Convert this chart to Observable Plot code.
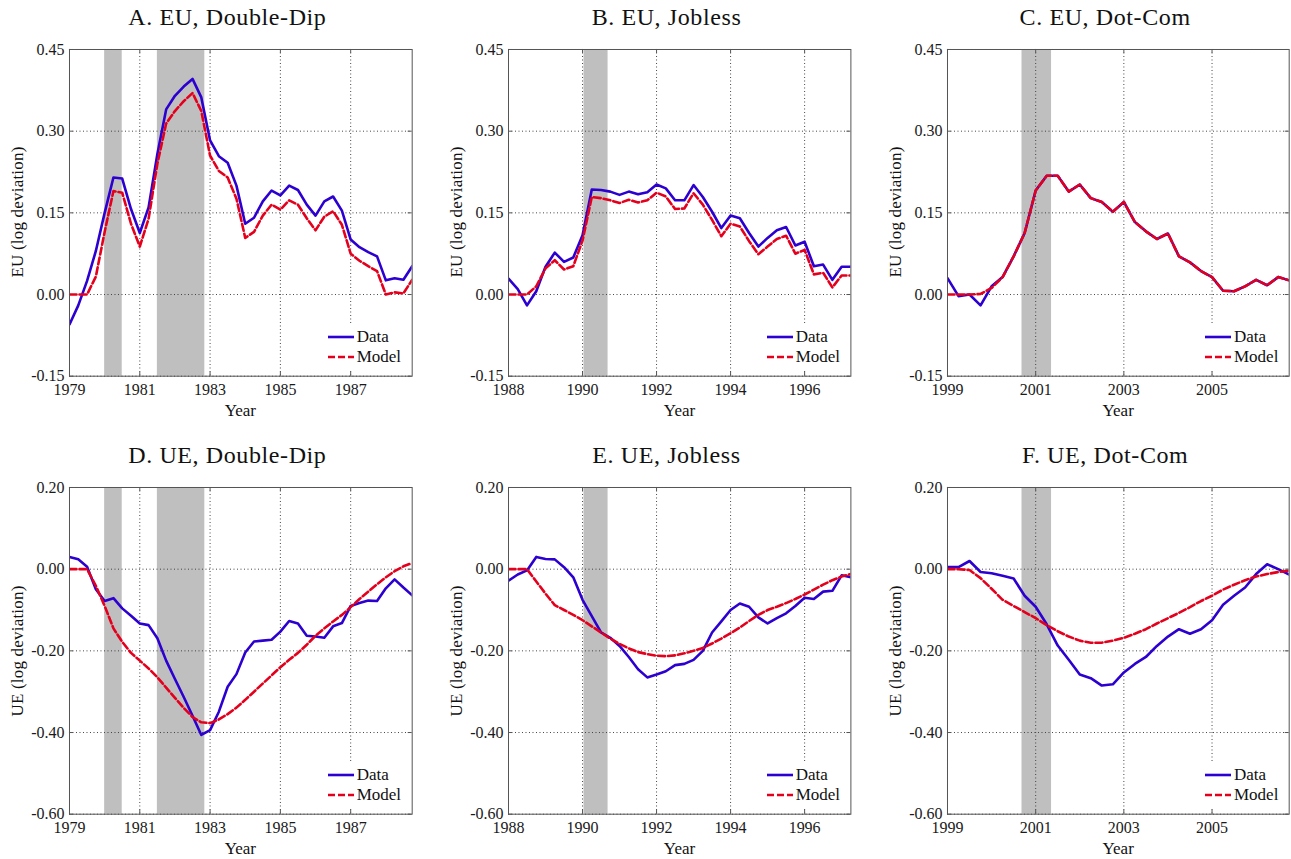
<!DOCTYPE html>
<html>
<head>
<meta charset="utf-8">
<script src="https://cdn.jsdelivr.net/npm/d3@7"></script>
<script src="https://cdn.jsdelivr.net/npm/@observablehq/plot@0.6"></script>
<style>
  html, body { margin: 0; padding: 0; background: #fff; }
  body { width: 1291px; height: 859px; position: relative; overflow: hidden; font-family: "Liberation Serif", "Times New Roman", serif; color: #111; }
  svg text { font-family: "Liberation Serif", "Times New Roman", serif !important; }
  .abs { position: absolute; white-space: nowrap; }
  .title { font-size: 24px; line-height: 1; transform: translateX(-50%); letter-spacing: 0.6px; }
  .ylab { font-size: 17px; line-height: 1; transform: translate(-50%, -50%) rotate(-90deg); letter-spacing: 0.2px; }
  .xlab { font-size: 17px; line-height: 1; transform: translate(-50%, -50%); }
  .legend { background: #fff; }
  .legrow { position: absolute; left: 0; height: 18px; display: flex; align-items: center; font-size: 17px; }
</style>
</head>
<body>
<script>
// ---------- DATA ----------
const quartersDoubleDip = [1979,1979.25,1979.5,1979.75,1980,1980.25,1980.5,1980.75,1981,1981.25,1981.5,1981.75,1982,1982.25,1982.5,1982.75,1983,1983.25,1983.5,1983.75,1984,1984.25,1984.5,1984.75,1985,1985.25,1985.5,1985.75,1986,1986.25,1986.5,1986.75,1987,1987.25,1987.5,1987.75,1988,1988.25,1988.5,1988.75];
const quartersJobless = [1988,1988.25,1988.5,1988.75,1989,1989.25,1989.5,1989.75,1990,1990.25,1990.5,1990.75,1991,1991.25,1991.5,1991.75,1992,1992.25,1992.5,1992.75,1993,1993.25,1993.5,1993.75,1994,1994.25,1994.5,1994.75,1995,1995.25,1995.5,1995.75,1996,1996.25,1996.5,1996.75,1997,1997.25];
const quartersDotCom = [1999,1999.25,1999.5,1999.75,2000,2000.25,2000.5,2000.75,2001,2001.25,2001.5,2001.75,2002,2002.25,2002.5,2002.75,2003,2003.25,2003.5,2003.75,2004,2004.25,2004.5,2004.75,2005,2005.25,2005.5,2005.75,2006,2006.25,2006.5,2006.75];

const euDoubleDipData  = [-0.055,-0.02,0.025,0.08, 0.15,0.215,0.213,0.157, 0.113,0.16,0.258,0.34, 0.365,0.382,0.396,0.362, 0.283,0.254,0.242,0.2, 0.13,0.141,0.171,0.191, 0.182,0.2,0.192,0.165, 0.145,0.171,0.18,0.154, 0.101,0.087,0.078,0.07, 0.026,0.03,0.027,0.052];
const euDoubleDipModel = [0,0,0,0.033, 0.115,0.19,0.187,0.13, 0.088,0.139,0.24,0.314, 0.337,0.355,0.37,0.337, 0.255,0.227,0.215,0.176, 0.104,0.115,0.145,0.165, 0.156,0.173,0.165,0.14, 0.118,0.143,0.153,0.128, 0.075,0.062,0.052,0.043, 0,0.004,0.002,0.027];
const euJoblessData    = [0.029,0.01,-0.02,0.006, 0.051,0.077,0.06,0.068, 0.109,0.193,0.192,0.189, 0.183,0.189,0.184,0.188, 0.202,0.195,0.173,0.173, 0.201,0.179,0.152,0.122, 0.145,0.14,0.113,0.088, 0.104,0.118,0.124,0.09, 0.097,0.052,0.055,0.027, 0.051,0.051];
const euJoblessModel   = [0,0,0,0.015, 0.048,0.063,0.046,0.052, 0.099,0.179,0.177,0.173, 0.168,0.174,0.169,0.173, 0.187,0.18,0.157,0.158, 0.186,0.165,0.137,0.107, 0.13,0.125,0.098,0.074, 0.088,0.102,0.108,0.075, 0.082,0.037,0.04,0.013, 0.035,0.035];
const euDotComData     = [0.03,-0.003,0,-0.02, 0.015,0.032,0.07,0.113, 0.191,0.218,0.218,0.189, 0.202,0.177,0.17,0.152, 0.17,0.133,0.116,0.102, 0.112,0.07,0.059,0.043, 0.032,0.007,0.006,0.015, 0.027,0.017,0.032,0.026];
const euDotComModel    = [0,0,0,0.001, 0.012,0.032,0.07,0.113, 0.191,0.218,0.218,0.189, 0.202,0.177,0.17,0.152, 0.17,0.133,0.116,0.102, 0.112,0.07,0.059,0.043, 0.032,0.007,0.006,0.015, 0.027,0.017,0.032,0.026];

const ueDoubleDipData  = [0.03,0.024,0.006,-0.049, -0.078,-0.071,-0.096,-0.114, -0.133,-0.137,-0.169,-0.224, -0.269,-0.313,-0.359,-0.406, -0.394,-0.349,-0.288,-0.257, -0.204,-0.177,-0.175,-0.173, -0.153,-0.127,-0.133,-0.163, -0.165,-0.168,-0.14,-0.132, -0.09,-0.083,-0.077,-0.078, -0.047,-0.025,-0.045,-0.064];
const ueDoubleDipModel = [0,0,0,-0.041, -0.09,-0.145,-0.178,-0.205, -0.224,-0.243,-0.265,-0.29, -0.315,-0.34,-0.362,-0.375, -0.377,-0.368,-0.355,-0.339, -0.32,-0.3,-0.28,-0.26, -0.24,-0.222,-0.205,-0.185, -0.163,-0.145,-0.128,-0.112, -0.093,-0.073,-0.055,-0.037, -0.02,-0.005,0.007,0.015];
const ueJoblessData    = [-0.028,-0.013,-0.003,0.03, 0.025,0.024,0.005,-0.02, -0.075,-0.115,-0.155,-0.168, -0.188,-0.215,-0.245,-0.265, -0.258,-0.25,-0.235,-0.232, -0.222,-0.2,-0.155,-0.128, -0.1,-0.084,-0.092,-0.118, -0.133,-0.12,-0.108,-0.09, -0.07,-0.073,-0.055,-0.053, -0.015,-0.02];
const ueJoblessModel   = [0,0,0,-0.03, -0.06,-0.088,-0.1,-0.112, -0.125,-0.14,-0.155,-0.17, -0.183,-0.194,-0.203,-0.208, -0.212,-0.213,-0.211,-0.206, -0.2,-0.193,-0.182,-0.17, -0.157,-0.143,-0.127,-0.112, -0.1,-0.092,-0.083,-0.073, -0.062,-0.05,-0.038,-0.027, -0.018,-0.012];
const ueDotComData     = [0.005,0.005,0.02,-0.007, -0.01,-0.016,-0.023,-0.065, -0.092,-0.135,-0.187,-0.222, -0.258,-0.267,-0.285,-0.282, -0.253,-0.232,-0.215,-0.188, -0.165,-0.147,-0.158,-0.147, -0.125,-0.087,-0.065,-0.045, -0.012,0.012,0,-0.013];
const ueDotComModel    = [0,0,-0.002,-0.022, -0.048,-0.075,-0.09,-0.105, -0.12,-0.137,-0.152,-0.165, -0.175,-0.18,-0.18,-0.175, -0.168,-0.158,-0.147,-0.133, -0.12,-0.107,-0.093,-0.078, -0.065,-0.05,-0.038,-0.027, -0.018,-0.012,-0.007,-0.004];

// recession shading (start, end in fractional years)
const recessionStartsDoubleDip = [1980.0, 1981.5];
const recessionEndsDoubleDip   = [1980.5, 1982.85];
const recessionStartsJobless   = [1990.04];
const recessionEndsJobless     = [1990.69];
const recessionStartsDotCom    = [2000.69];
const recessionEndsDotCom      = [2001.36];

// tick labels
const xTicksDoubleDip = [1979, 1981, 1983, 1985, 1987];
const xTicksJobless   = [1988, 1990, 1992, 1994, 1996];
const xTicksDotCom    = [1999, 2001, 2003, 2005];
const yTicksEU = [-0.15, 0.00, 0.15, 0.30, 0.45];
const yTicksUE = [-0.60, -0.40, -0.20, 0.00, 0.20];

const titles = ["A. EU, Double-Dip", "B. EU, Jobless", "C. EU, Dot-Com", "D. UE, Double-Dip", "E. UE, Jobless", "F. UE, Dot-Com"];
const yLabels = ["EU (log deviation)", "UE (log deviation)"];
const xLabel = "Year";
const seriesNames = ["Data", "Model"];

// ---------- LAYOUT / STYLE ----------
const frameLeft = [69, 508.3, 947.3];
const frameRight = [411.7, 850.7, 1289];
const frameTop = [49, 487.3];
const frameBottom = [375.7, 814];
const blue = "#2c00d0";
const red = "#e4001c";
const shade = "#bfbfbf";

const recessions = (s, e) => s.map((v, i) => ({start: v, end: e[i]}));
const episodes = [
  {q: quartersDoubleDip, rec: recessions(recessionStartsDoubleDip, recessionEndsDoubleDip), xt: xTicksDoubleDip},
  {q: quartersJobless, rec: recessions(recessionStartsJobless, recessionEndsJobless), xt: xTicksJobless},
  {q: quartersDotCom, rec: recessions(recessionStartsDotCom, recessionEndsDotCom), xt: xTicksDotCom}
];
const panels = [
  {row: 0, col: 0, data: euDoubleDipData, model: euDoubleDipModel, yt: yTicksEU},
  {row: 0, col: 1, data: euJoblessData, model: euJoblessModel, yt: yTicksEU},
  {row: 0, col: 2, data: euDotComData, model: euDotComModel, yt: yTicksEU},
  {row: 1, col: 0, data: ueDoubleDipData, model: ueDoubleDipModel, yt: yTicksUE},
  {row: 1, col: 1, data: ueJoblessData, model: ueJoblessModel, yt: yTicksUE},
  {row: 1, col: 2, data: ueDotComData, model: ueDotComModel, yt: yTicksUE}
];

const mL = 60, mR = 3, mT = 8, mB = 32;

function el(tag, cls, css, text) {
  const e = document.createElement(tag);
  if (cls) e.className = cls;
  Object.assign(e.style, css);
  if (text != null) e.textContent = text;
  document.body.appendChild(e);
  return e;
}

panels.forEach((p, k) => {
  const ep = episodes[p.col];
  const fl = frameLeft[p.col], fr = frameRight[p.col], ft = frameTop[p.row], fb = frameBottom[p.row];
  const rows = ep.q.map((t, i) => ({t, data: p.data[i], model: p.model[i]}));
  const W = (fr - fl) + mL + mR, H = (fb - ft) + mT + mB;
  const fh = fb - ft, fw = fr - fl;
  const gridStyle = {stroke: "#3a3a3a", strokeOpacity: 0.95, strokeWidth: 1, strokeDasharray: "1,2.5"};
  const tickStyle = {stroke: "#555", strokeWidth: 1};
  const chart = Plot.plot({
    width: W, height: H,
    marginLeft: mL, marginRight: mR, marginTop: mT, marginBottom: mB,
    style: {fontFamily: '"Liberation Serif", "Times New Roman", serif', fontSize: "16px", color: "#1a1a1a", background: "transparent", overflow: "visible"},
    x: {domain: d3.extent(ep.q), label: null},
    y: {domain: d3.extent(p.yt), label: null},
    marks: [
      Plot.rect(ep.rec, {x1: "start", x2: "end", fill: shade}),
      Plot.gridX(ep.xt, gridStyle),
      Plot.gridY(p.yt, gridStyle),
      // small inward tick marks on all four sides
      Plot.ruleX(ep.xt, {...tickStyle, insetTop: fh - 4}),
      Plot.ruleX(ep.xt, {...tickStyle, insetBottom: fh - 4}),
      Plot.ruleY(p.yt, {...tickStyle, insetRight: fw - 4}),
      Plot.ruleY(p.yt, {...tickStyle, insetLeft: fw - 4}),
      Plot.line(rows, {x: "t", y: "data", stroke: blue, strokeWidth: 2.6, clip: true}),
      Plot.line(rows, {x: "t", y: "model", stroke: red, strokeWidth: 2.6, strokeDasharray: "7,3", clip: true}),
      Plot.frame({stroke: "#555"}),
      Plot.axisX(ep.xt, {tickSize: 0, tickPadding: 7, tickFormat: d => String(d), label: null}),
      Plot.axisY(p.yt, {tickSize: 0, tickPadding: 5, tickFormat: d => d.toFixed(2), label: null})
    ]
  });
  chart.style.position = "absolute";
  chart.style.left = (fl - mL) + "px";
  chart.style.top = (ft - mT) + "px";
  document.body.appendChild(chart);

  const cx = (fl + fr) / 2;
  el("div", "abs title", {left: (cx - 13) + "px", top: (ft - 44) + "px"}, titles[k]);
  el("div", "abs ylab", {left: (fl - 52) + "px", top: ((ft + fb) / 2) + "px"}, yLabels[p.row]);
  el("div", "abs xlab", {left: cx + "px", top: (fb + 34) + "px"}, xLabel);

  const lg = el("div", "abs legend", {left: (fr - 90) + "px", top: (fb - 51) + "px", width: "88px", height: "45px"});
  [[blue, null], [red, "7,3"]].forEach(([c, dash], i) => {
    const r = document.createElement("div");
    r.className = "legrow";
    r.style.top = (i === 0 ? 3.3 : 23) + "px";
    r.style.left = "6px";
    r.innerHTML = `<svg width="26" height="6" style="margin-right:3px"><line x1="0" x2="26" y1="3" y2="3" stroke="${c}" stroke-width="2.6" ${dash ? `stroke-dasharray="${dash}"` : ""}/></svg><span>${seriesNames[i]}</span>`;
    lg.appendChild(r);
  });
});
</script>
</body>
</html>
